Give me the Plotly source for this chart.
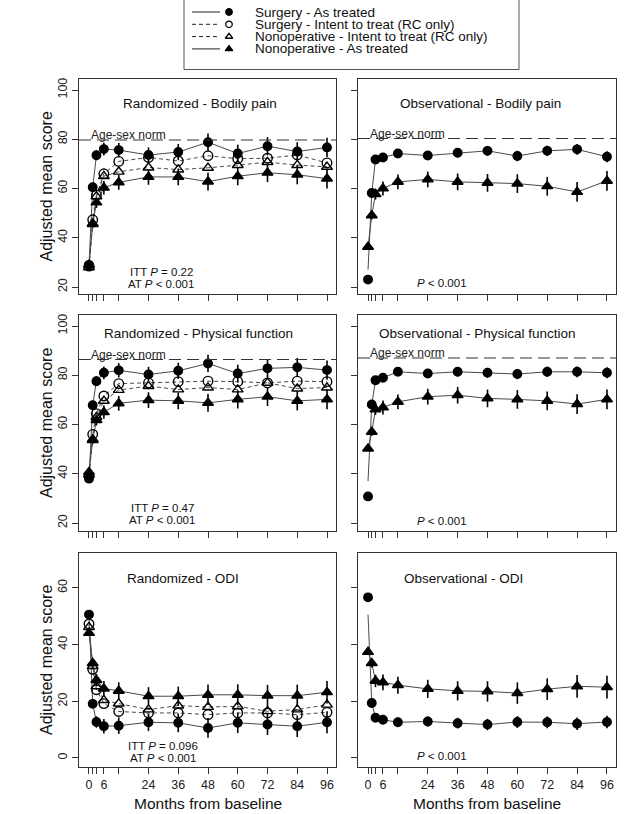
import plotly.graph_objects as go

# ---------------- data ----------------
months = [0, 1.5, 3, 6, 12, 24, 36, 48, 60, 72, 84, 96]
tick_text = ["0", "", "", "6", "", "24", "36", "48", "60", "72", "84", "96"]

# Randomized - Bodily pain
rbp_surg_at = [29.0, 60.5, 73.5, 76.0, 75.6, 73.6, 74.8, 78.8, 74.2, 77.2, 75.0, 76.7]
rbp_surg_itt = [28.5, 47.3, 57.3, 66.0, 71.0, 72.6, 71.2, 73.3, 72.1, 72.3, 73.6, 70.4]
rbp_nonop_itt = [28.0, 45.8, 56.8, 65.0, 66.8, 68.5, 67.7, 68.4, 69.5, 70.7, 69.5, 68.8]
rbp_nonop_at = [29.0, 45.5, 54.3, 60.3, 62.5, 64.7, 64.7, 62.8, 65.0, 66.4, 65.6, 64.0]
rbp_norm = 79.7

# Observational - Bodily pain
obp_surg_at = [23.0, 58.2, 71.8, 72.6, 74.2, 73.4, 74.5, 75.3, 73.2, 75.3, 75.9, 72.9]
obp_nonop_at = [36.3, 49.1, 57.7, 60.0, 62.7, 63.7, 62.7, 62.3, 62.0, 60.9, 58.6, 63.1]
obp_surg_line_start = 27.0
obp_norm = 80.3

# Randomized - Physical function
rpf_surg_at = [38.0, 67.8, 77.6, 81.0, 82.0, 80.3, 81.8, 84.8, 80.7, 82.8, 83.2, 82.1]
rpf_surg_itt = [39.4, 56.0, 64.4, 71.6, 76.6, 76.9, 77.4, 77.6, 77.4, 76.9, 77.6, 77.4]
rpf_nonop_itt = [39.6, 54.0, 63.0, 69.6, 74.0, 75.6, 74.2, 75.0, 74.2, 76.9, 74.6, 75.0]
rpf_nonop_at = [40.7, 53.6, 61.8, 65.0, 68.6, 69.9, 69.6, 68.8, 70.2, 71.3, 69.6, 70.2]
rpf_norm = 86.4

# Observational - Physical function
opf_surg_at = [30.8, 68.1, 78.0, 79.0, 81.4, 80.7, 81.4, 81.0, 80.5, 81.4, 81.4, 81.0]
opf_nonop_at = [50.2, 57.0, 66.1, 66.9, 69.2, 71.3, 71.9, 70.6, 70.2, 69.6, 68.3, 70.2]
opf_surg_line_start = 37.0
opf_norm = 87.0

# Randomized - ODI
rodi_surg_at = [50.6, 19.1, 12.7, 11.2, 11.4, 12.6, 12.4, 10.6, 12.4, 11.8, 11.2, 12.6]
rodi_surg_itt = [47.3, 31.3, 24.1, 19.2, 16.4, 15.9, 15.9, 15.3, 15.9, 15.9, 15.3, 16.1]
rodi_nonop_itt = [46.2, 32.4, 25.3, 20.4, 19.2, 17.1, 18.5, 18.0, 18.2, 16.5, 17.1, 18.8]
rodi_nonop_at = [44.1, 33.5, 27.5, 24.5, 23.7, 21.8, 21.8, 22.3, 22.3, 22.0, 22.0, 23.2]

# Observational - ODI
oodi_surg_at = [56.7, 19.4, 14.2, 13.5, 12.6, 12.9, 12.3, 11.8, 12.7, 12.6, 12.1, 12.7]
oodi_nonop_at = [37.4, 33.5, 27.2, 26.7, 25.7, 24.4, 23.7, 23.5, 22.9, 24.3, 25.3, 25.0]
oodi_surg_line_start = 50.6

# error bar half-lengths (estimated)
err_rand_surg = [0.6, 1.4, 2.0, 2.6, 2.9, 3.1, 3.3, 3.5, 3.6, 3.7, 3.8, 3.9]
err_rand_nonop = [0.6, 1.5, 2.2, 2.7, 3.0, 3.2, 3.4, 3.6, 3.7, 3.8, 3.9, 4.0]
err_obs_surg = [0.6, 1.0, 1.4, 1.6, 1.7, 1.8, 1.9, 2.0, 2.1, 2.1, 2.2, 2.2]
err_obs_nonop = [0.8, 1.6, 2.2, 2.8, 3.0, 3.2, 3.4, 3.6, 3.8, 3.8, 4.0, 4.0]

legend_labels = [
    "Surgery - As treated",
    "Surgery - Intent to treat (RC only)",
    "Nonoperative - Intent to treat (RC only)",
    "Nonoperative - As treated",
]

# ---------------- styling ----------------
W, H = 640, 814
FONT = "Liberation Sans, Arial, Helvetica, sans-serif"
LINE_COL = "#4a4a4a"
AXIS_COL = "#333333"

STYLES = {
    "surg_at": dict(symbol="circle", size=8.5, dash="solid", lw=1.0),
    "surg_itt": dict(symbol="circle-open", size=9.5, dash="4px,3px", lw=1.0),
    "nonop_itt": dict(symbol="triangle-up-open", size=9.5, dash="4px,3px", lw=1.0),
    "nonop_at": dict(symbol="triangle-up", size=9.5, dash="solid", lw=1.0),
}


def px_y(p):
    return 1 - p / H


col_dom = [[79 / W, 336 / W], [358 / W, 616 / W]]
row_box = [(79, 294), (315, 531), (553, 767)]
row_dom = [[px_y(b), px_y(t)] for t, b in row_box]
row_range = [[17.16, 104.47], [16.75, 104.47], [-3.18, 72.35]]
row_ticks = [[20, 40, 60, 80, 100], [20, 40, 60, 80, 100], [0, 20, 40, 60]]
x_range = [-4.03, 99.63]

panels = [
    dict(r=0, c=0, title="Randomized - Bodily pain", tpos=(200, 103), norm=rbp_norm,
         series=[("nonop_at", rbp_nonop_at, err_rand_nonop), ("nonop_itt", rbp_nonop_itt, None),
                 ("surg_itt", rbp_surg_itt, None), ("surg_at", rbp_surg_at, err_rand_surg)],
         start=None, ptext=[("ITT <i>P</i> = 0.22", 161, 271.5), ("AT <i>P</i> < 0.001", 161, 283.5)]),
    dict(r=0, c=1, title="Observational - Bodily pain", tpos=(480, 103), norm=obp_norm,
         series=[("nonop_at", obp_nonop_at, err_obs_nonop), ("surg_at", obp_surg_at, err_obs_surg)],
         start=obp_surg_line_start, ptext=[("<i>P</i> < 0.001", 442, 283)]),
    dict(r=1, c=0, title="Randomized - Physical function", tpos=(198, 333), norm=rpf_norm,
         series=[("nonop_at", rpf_nonop_at, err_rand_nonop), ("nonop_itt", rpf_nonop_itt, None),
                 ("surg_itt", rpf_surg_itt, None), ("surg_at", rpf_surg_at, err_rand_surg)],
         start=None, ptext=[("ITT <i>P</i> = 0.47", 162, 507.5), ("AT <i>P</i> < 0.001", 162, 519.5)]),
    dict(r=1, c=1, title="Observational - Physical function", tpos=(477, 333), norm=opf_norm,
         series=[("nonop_at", opf_nonop_at, err_obs_nonop), ("surg_at", opf_surg_at, err_obs_surg)],
         start=opf_surg_line_start, ptext=[("<i>P</i> < 0.001", 442, 521)]),
    dict(r=2, c=0, title="Randomized - ODI", tpos=(183, 578), norm=None,
         series=[("nonop_at", rodi_nonop_at, err_rand_nonop), ("nonop_itt", rodi_nonop_itt, None),
                 ("surg_itt", rodi_surg_itt, None), ("surg_at", rodi_surg_at, err_rand_surg)],
         start=None, ptext=[("ITT <i>P</i> = 0.096", 163, 746), ("AT <i>P</i> < 0.001", 163, 758)]),
    dict(r=2, c=1, title="Observational - ODI", tpos=(463, 578), norm=None,
         series=[("nonop_at", oodi_nonop_at, err_obs_nonop), ("surg_at", oodi_surg_at, err_obs_surg)],
         start=oodi_surg_line_start, ptext=[("<i>P</i> < 0.001", 442, 756)]),
]

fig = go.Figure()
layout = {}
annotations = []
shapes = []

for i, p in enumerate(panels, start=1):
    r, c = p["r"], p["c"]
    xa = "x" if i == 1 else f"x{i}"
    ya = "y" if i == 1 else f"y{i}"
    xkey = "xaxis" if i == 1 else f"xaxis{i}"
    ykey = "yaxis" if i == 1 else f"yaxis{i}"
    bottom = (r == 2)
    layout[xkey] = dict(
        domain=col_dom[c], anchor=ya, range=x_range, showgrid=False, zeroline=False,
        showline=True, mirror=True, linecolor=AXIS_COL, linewidth=1,
        ticks="outside", ticklen=6, tickwidth=1, tickcolor=AXIS_COL,
        tickvals=months, ticktext=tick_text, showticklabels=bottom,
        tickfont=dict(family=FONT, size=12.5, color="#222"),
    )
    layout[ykey] = dict(
        domain=row_dom[r], anchor=xa, range=row_range[r], showgrid=False, zeroline=False,
        showline=True, mirror=True, linecolor=AXIS_COL, linewidth=1,
        ticks="outside", ticklen=6, tickwidth=1, tickcolor=AXIS_COL,
        tickvals=row_ticks[r], showticklabels=(c == 0), tickangle=-90,
        tickfont=dict(family=FONT, size=12.5, color="#222"),
    )

    for key, vals, err in p["series"]:
        st = STYLES[key]
        line_y = list(vals)
        if key == "surg_at" and p["start"] is not None:
            line_y[0] = p["start"]
        fig.add_trace(go.Scatter(
            x=months, y=line_y, mode="lines", xaxis=xa, yaxis=ya, showlegend=False,
            line=dict(color=LINE_COL, width=st["lw"], dash=st["dash"]), hoverinfo="skip"))
    for key, vals, err in p["series"]:
        st = STYLES[key]
        tr = dict(x=months, y=vals, mode="markers", xaxis=xa, yaxis=ya, showlegend=False,
                  marker=dict(symbol=st["symbol"], size=st["size"], color="black",
                              line=dict(color="black", width=1.4)))
        if err is not None:
            tr["error_y"] = dict(type="data", array=err, visible=True, width=0,
                                 thickness=1.6, color="black")
        fig.add_trace(go.Scatter(**tr))

    if p["norm"] is not None:
        shapes.append(dict(type="line", xref=f"{xa} domain", yref=ya, x0=0, x1=1,
                           y0=p["norm"], y1=p["norm"],
                           line=dict(color="#333", width=1.2, dash="12px,6px")))
        annotations.append(dict(xref=xa, yref=ya, x=-0.2, y=p["norm"], text="Age-sex norm",
                                showarrow=False, xanchor="left", yanchor="bottom", yshift=-4,
                                font=dict(family=FONT, size=12, color="#222")))

    annotations.append(dict(xref="x7", yref="y7", x=p["tpos"][0], y=p["tpos"][1], text=p["title"],
                            showarrow=False, xanchor="center", yanchor="middle",
                            font=dict(family=FONT, size=13.5, color="#111")))
    for txt, tx, ty in p["ptext"]:
        annotations.append(dict(xref="x7", yref="y7", x=tx, y=ty, text=txt, showarrow=False,
                                xanchor="center", yanchor="middle", borderpad=0,
                                font=dict(family=FONT, size=11.5, color="#111")))

# axis titles
for r in range(3):
    t, b = row_box[r]
    annotations.append(dict(xref="x7", yref="y7", x=46, y=(t + b) / 2, text="Adjusted mean score",
                            textangle=-90, showarrow=False, xanchor="center", yanchor="middle",
                            font=dict(family=FONT, size=16, color="#111")))
for cx in (207.5, 487):
    annotations.append(dict(xref="x7", yref="y7", x=cx, y=803, text="Months from baseline",
                            showarrow=False, xanchor="center", yanchor="middle", borderpad=0,
                            font=dict(family=FONT, size=15.5, color="#111")))

# overlay pixel axes (for legend and texts)
layout["xaxis7"] = dict(domain=[0, 1], range=[0, W], visible=False, anchor="y7", fixedrange=True)
layout["yaxis7"] = dict(domain=[0, 1], range=[H, 0], visible=False, anchor="x7", fixedrange=True)

# legend (manual)
leg_rows = [12.0, 24.3, 36.6, 48.9]
leg_keys = ["surg_at", "surg_itt", "nonop_itt", "nonop_at"]
shapes.append(dict(type="rect", xref="x7", yref="y7", x0=184, x1=519, y0=-3, y1=69.5,
                   line=dict(color="#555", width=1), fillcolor="rgba(0,0,0,0)"))
for key, lab, yy in zip(leg_keys, legend_labels, leg_rows):
    st = STYLES[key]
    fig.add_trace(go.Scatter(x=[192, 220], y=[yy, yy], mode="lines", xaxis="x7", yaxis="y7",
                             showlegend=False, hoverinfo="skip",
                             line=dict(color="#222", width=1, dash=st["dash"])))
    fig.add_trace(go.Scatter(x=[229], y=[yy], mode="markers", xaxis="x7", yaxis="y7",
                             showlegend=False, hoverinfo="skip",
                             marker=dict(symbol=st["symbol"], size=6.5, color="black",
                                         line=dict(color="black", width=1.3))))
    annotations.append(dict(xref="x7", yref="y7", x=253, y=yy, text=lab, showarrow=False,
                            xanchor="left", yanchor="middle",
                            font=dict(family=FONT, size=13.5, color="#111")))

fig.update_layout(
    width=W, height=H, margin=dict(l=0, r=0, t=0, b=0),
    paper_bgcolor="white", plot_bgcolor="rgba(0,0,0,0)",
    showlegend=False, annotations=annotations, shapes=shapes,
    font=dict(family=FONT, color="#111"),
    **layout,
)

fig.write_html("out.html", config={"displayModeBar": False, "staticPlot": True},
               post_script="document.body.style.margin='0';document.body.style.overflow='hidden';")
